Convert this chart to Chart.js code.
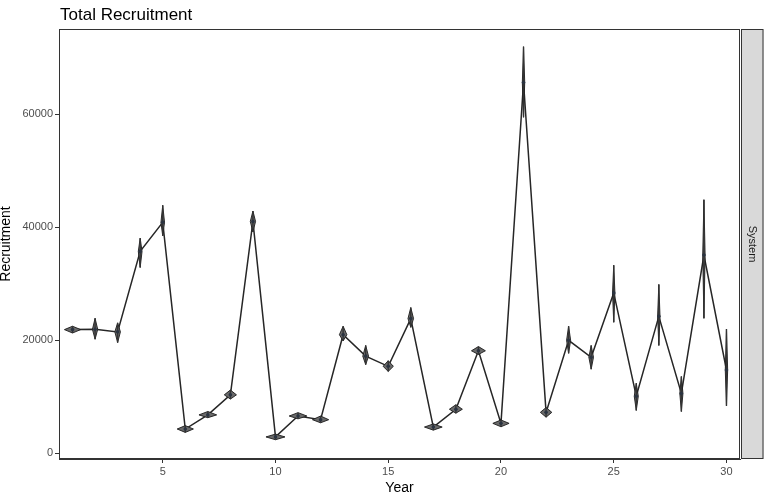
<!DOCTYPE html>
<html>
<head>
<meta charset="utf-8">
<title>Total Recruitment</title>
<script src="https://cdn.jsdelivr.net/npm/chart.js@4"></script>
<style>
  html, body { margin: 0; padding: 0; background: #ffffff; }
  #wrap { width: 769px; height: 499px; }
</style>
</head>
<body>
<div id="wrap"><canvas id="recruitGraph" width="769" height="499"></canvas></div>
<script>
// yearly recruitment estimates (median with lower / upper bounds)
const years = [1, 2, 3, 4, 5, 6, 7, 8, 9, 10, 11, 12, 13, 14, 15, 16, 17, 18, 19, 20, 21, 22, 23, 24, 25, 26, 27, 28, 29, 30];
const recruitment = [21900, 21950, 21500, 35750, 40900, 4300, 6800, 10350, 41050, 2900, 6600, 5950, 21000, 17200, 15400, 23850, 4650, 7800, 18150, 5300, 65650, 7250, 20000, 17000, 28400, 10100, 24250, 10600, 35100, 14750];
const lower = [21300, 20200, 19600, 32900, 38500, 3700, 6300, 9600, 39200, 2400, 6100, 5400, 19900, 15700, 14500, 22300, 4100, 7100, 17500, 4700, 59500, 6400, 17700, 14900, 23200, 7600, 19100, 7400, 23900, 8400];
const upper = [22500, 23900, 23100, 38100, 43900, 4900, 7400, 11200, 42900, 3400, 7200, 6600, 22500, 19100, 16400, 25800, 5200, 8600, 18900, 5900, 72000, 8100, 22500, 19100, 33300, 12400, 29900, 13600, 44900, 22000];
const xTicks = [5, 10, 15, 20, 25, 30];
const yTicks = [0, 20000, 40000, 60000];
const panelName = 'System';

Chart.defaults.font.family = "'Liberation Sans', Arial, sans-serif";

// violins are drawn as diamonds spanning the interval, narrower when taller
const violinPlugin = {
    id: 'violins',
    afterDatasetsDraw(chart) {
        const ctx = chart.ctx;
        const xs = chart.scales.x;
        const ys = chart.scales.y;
        ctx.save();
        years.forEach((yr, i) => {
            const px = xs.getPixelForValue(yr);
            const top = ys.getPixelForValue(upper[i]);
            const bot = ys.getPixelForValue(lower[i]);
            const mid = ys.getPixelForValue(recruitment[i]);
            const h = bot - top;
            const halfW = Math.max(1.2, Math.min(9.5, 55 / h));
            ctx.beginPath();
            ctx.moveTo(px, top);
            ctx.lineTo(px + halfW, mid);
            ctx.lineTo(px, bot);
            ctx.lineTo(px - halfW, mid);
            ctx.closePath();
            ctx.fillStyle = '#6a6a6a';
            ctx.fill();
            ctx.lineWidth = 0.9;
            ctx.strokeStyle = '#1a1a1a';
            ctx.stroke();
            ctx.beginPath();
            ctx.moveTo(px, top);
            ctx.lineTo(px, bot);
            ctx.lineWidth = 1.4;
            ctx.strokeStyle = '#333333';
            ctx.stroke();
            ctx.beginPath();
            ctx.arc(px, mid, 1.8, 0, Math.PI * 2);
            ctx.fillStyle = '#2a3340';
            ctx.fill();
        });
        ctx.restore();
    }
};

// panel border, facet strip and plot title
const framePlugin = {
    id: 'frame',
    afterDraw(chart) {
        const ctx = chart.ctx;
        const a = chart.chartArea;
        ctx.save();
        ctx.lineWidth = 1;
        ctx.strokeStyle = '#333333';
        ctx.strokeRect(a.left + 0.5, a.top + 0.5, a.right - a.left - 1, a.bottom - a.top - 1);

        const sx = a.right + 1;
        const sw = 22.5;
        ctx.fillStyle = '#d9d9d9';
        ctx.fillRect(sx, a.top, sw, a.bottom - a.top);
        ctx.strokeRect(sx + 0.5, a.top + 0.5, sw - 1, a.bottom - a.top - 1);

        ctx.fillStyle = '#1a1a1a';
        ctx.font = "11px 'Liberation Sans', Arial, sans-serif";
        ctx.textAlign = 'center';
        ctx.textBaseline = 'middle';
        ctx.translate(sx + sw / 2, (a.top + a.bottom) / 2);
        ctx.rotate(Math.PI / 2);
        ctx.fillText(panelName, 0, 0);
        ctx.restore();

        ctx.save();
        ctx.fillStyle = '#000000';
        ctx.font = "17px 'Liberation Sans', Arial, sans-serif";
        ctx.textAlign = 'left';
        ctx.textBaseline = 'alphabetic';
        ctx.fillText('Total Recruitment', a.left + 1, 20);
        ctx.restore();
    }
};

function drawRecruitment() {
    const ctx = document.getElementById('recruitGraph').getContext('2d');
    const data = {
        datasets: [{
            label: 'Recruitment',
            data: years.map((yr, i) => ({ x: yr, y: recruitment[i] })),
            borderColor: '#262626',
            borderWidth: 1.5,
            pointRadius: 0,
            fill: false,
            tension: 0,
        }]
    };
    let recruitChart = new Chart(ctx, {
        type: 'line',
        data: data,
        options: {
            responsive: false,
            animation: false,
            layout: { padding: { top: 29, right: 29, bottom: 0, left: 0 } },
            plugins: {
                legend: { display: false },
                tooltip: { enabled: false },
            },
            scales: {
                x: {
                    type: 'linear',
                    min: 0.4,
                    max: 30.6,
                    afterBuildTicks: (axis) => { axis.ticks = xTicks.map((v) => ({ value: v })); },
                    afterFit: (axis) => { axis.height = 40; },
                    grid: { drawOnChartArea: false, drawTicks: true, tickLength: 4, tickColor: '#333333' },
                    border: { display: true, color: '#333333', width: 1 },
                    ticks: { color: '#4d4d4d', font: { size: 11 }, padding: 2, maxRotation: 0 },
                    title: { display: true, text: 'Year', color: '#000000', font: { size: 14, lineHeight: 1 }, padding: { top: 0, bottom: 4 } },
                },
                y: {
                    type: 'linear',
                    min: -1010,
                    max: 75130,
                    afterBuildTicks: (axis) => { axis.ticks = yTicks.map((v) => ({ value: v })); },
                    afterFit: (axis) => { axis.width = 59; },
                    grid: { drawOnChartArea: false, drawTicks: true, tickLength: 4, tickColor: '#333333' },
                    border: { display: true, color: '#333333', width: 1 },
                    ticks: { color: '#4d4d4d', font: { size: 11 }, padding: 2, callback: (v) => String(v) },
                    title: { display: true, text: 'Recruitment', color: '#000000', font: { size: 14, lineHeight: 1 }, padding: { top: -1, bottom: 0 } },
                }
            }
        },
        plugins: [violinPlugin, framePlugin]
    });
}

drawRecruitment();
</script>
</body>
</html>
